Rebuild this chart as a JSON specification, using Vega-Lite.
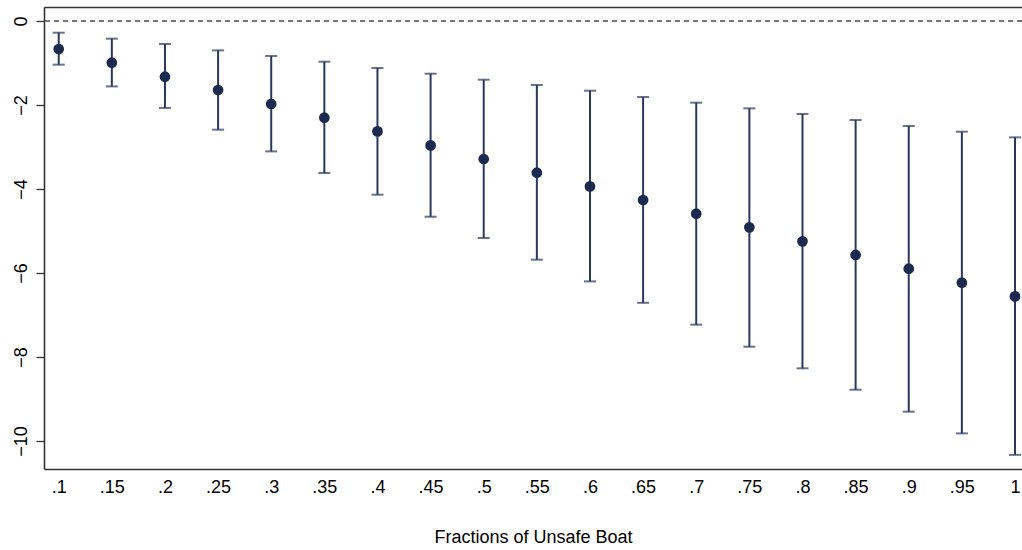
{
  "$schema": "https://vega.github.io/schema/vega-lite/v6.json",
  "autosize": "none",
  "padding": {"left": 44, "top": 7, "right": 0, "bottom": 81},
  "width": 978,
  "height": 462,
  "background": "white",
  "view": {"stroke": null},
  "config": {
    "font": "Liberation Sans",
    "axis": {"labelFont": "Liberation Sans", "titleFont": "Liberation Sans", "labelColor": "#000", "titleColor": "#000", "grid": false, "domainColor": "#333", "domainWidth": 1.6, "tickColor": "#333", "tickWidth": 1.3}
  },
  "data": {"values": [
    {"frac": 0.10, "b": -0.667, "lo": -1.04, "hi": -0.279},
    {"frac": 0.15, "b": -0.993, "lo": -1.557, "hi": -0.421},
    {"frac": 0.20, "b": -1.326, "lo": -2.07, "hi": -0.548},
    {"frac": 0.25, "b": -1.643, "lo": -2.588, "hi": -0.70},
    {"frac": 0.30, "b": -1.976, "lo": -3.105, "hi": -0.833},
    {"frac": 0.35, "b": -2.302, "lo": -3.619, "hi": -0.969},
    {"frac": 0.40, "b": -2.629, "lo": -4.136, "hi": -1.119},
    {"frac": 0.45, "b": -2.962, "lo": -4.66, "hi": -1.255},
    {"frac": 0.50, "b": -3.286, "lo": -5.167, "hi": -1.398},
    {"frac": 0.55, "b": -3.612, "lo": -5.683, "hi": -1.524},
    {"frac": 0.60, "b": -3.938, "lo": -6.2, "hi": -1.66},
    {"frac": 0.65, "b": -4.262, "lo": -6.71, "hi": -1.81},
    {"frac": 0.70, "b": -4.588, "lo": -7.23, "hi": -1.945},
    {"frac": 0.75, "b": -4.914, "lo": -7.755, "hi": -2.08},
    {"frac": 0.80, "b": -5.247, "lo": -8.27, "hi": -2.214},
    {"frac": 0.85, "b": -5.571, "lo": -8.779, "hi": -2.357},
    {"frac": 0.90, "b": -5.898, "lo": -9.302, "hi": -2.5},
    {"frac": 0.95, "b": -6.231, "lo": -9.819, "hi": -2.636},
    {"frac": 1.00, "b": -6.557, "lo": -10.33, "hi": -2.771}
  ]},
  "resolve": {"axis": {"x": "independent"}},
  "layer": [
    {
      "mark": {"type": "rule", "color": "#777", "strokeDash": [5, 4], "strokeWidth": 1},
      "encoding": {"y": {"datum": 0, "type": "quantitative"}}
    },
    {
      "mark": {"type": "errorbar", "ticks": {"size": 12, "thickness": 2, "color": "#2a385c"}, "rule": {"strokeWidth": 2, "color": "#2a385c"}},
      "encoding": {
        "x": {"field": "frac", "type": "quantitative",
              "scale": {"domain": [0.08616, 1.00659], "nice": false, "zero": false},
              "axis": {"orient": "bottom", "values": [0.1,0.15,0.2,0.25,0.3,0.35,0.4,0.45,0.5,0.55,0.6,0.65,0.7,0.75,0.8,0.85,0.9,0.95,1],
                       "labelExpr": "replace(format(datum.value, '.2~f'), '0.', '.')",
                       "ticks": false, "labelPadding": 9, "labelFontSize": 18,
                       "title": "Fractions of Unsafe Boat", "titleFontSize": 18, "titleFontWeight": "normal", "titlePadding": 32}},
        "y": {"field": "lo", "type": "quantitative",
              "scale": {"domain": [-10.667, 0.333], "nice": false, "zero": false},
              "axis": {"orient": "left", "values": [-10,-8,-6,-4,-2,0], "labelAngle": -90, "labelAlign": "center", "labelBaseline": "middle",
                       "tickSize": 8, "labelPadding": 15, "labelFontSize": 18, "title": null}},
        "y2": {"field": "hi"}
      }
    },
    {
      "mark": {"type": "circle", "size": 115, "opacity": 1, "color": "#1c2a50"},
      "encoding": {
        "x": {"field": "frac", "type": "quantitative",
              "axis": {"orient": "top", "labels": false, "ticks": false, "title": null}},
        "y": {"field": "b", "type": "quantitative"}
      }
    }
  ]
}
